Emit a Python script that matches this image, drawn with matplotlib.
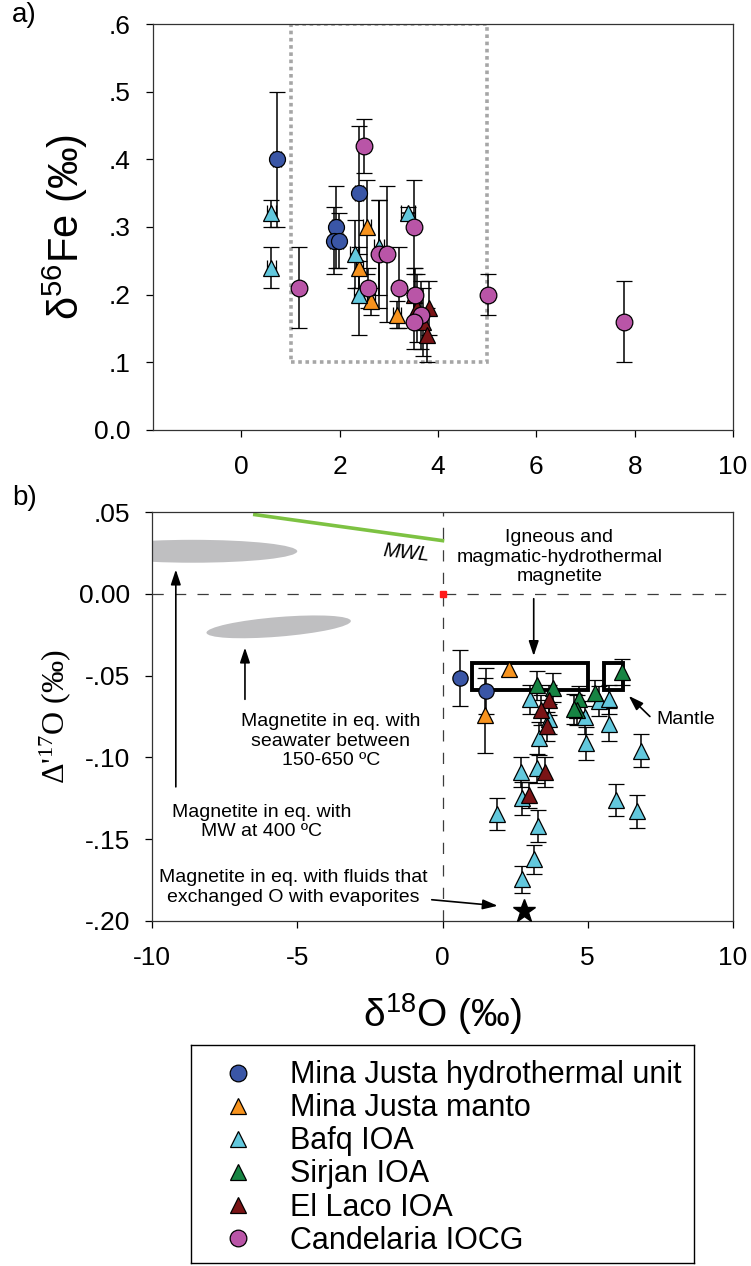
import numpy as np
import matplotlib
matplotlib.use("Agg")
import matplotlib.pyplot as plt
from matplotlib.patches import Ellipse, Rectangle
from matplotlib.lines import Line2D
from matplotlib.transforms import Affine2D

plt.rcParams["font.family"] = ["Liberation Sans", "DejaVu Sans"]
plt.rcParams["axes.unicode_minus"] = False

# -----------------------------
# DATA: panel a (d18O vs d56Fe)
# -----------------------------
mjh_a_x = [0.73, 1.92, 1.88, 1.98, 2.39]
mjh_a_y = [0.40, 0.30, 0.28, 0.28, 0.35]
mjh_a_yerr = [0.10, 0.06, 0.05, 0.04, 0.10]
mjh_a_xerr = [0.08, 0.08, 0.08, 0.08, 0.08]

mjm_a_x = [2.56, 2.40, 2.64, 3.17]
mjm_a_y = [0.30, 0.24, 0.19, 0.17]
mjm_a_yerr = [0.07, 0.03, 0.02, 0.02]
mjm_a_xerr = [0.08, 0.08, 0.08, 0.08]

bafq_a_x = [0.61, 0.61, 2.30, 2.39, 2.80, 3.39]
bafq_a_y = [0.32, 0.24, 0.26, 0.20, 0.27, 0.32]
bafq_a_yerr = [0.02, 0.03, 0.05, 0.06, 0.07, 0.01]
bafq_a_xerr = [0.10, 0.10, 0.10, 0.10, 0.10, 0.15]

laco_a_x = [3.50, 3.58, 3.81, 3.70, 3.77]
laco_a_y = [0.20, 0.18, 0.18, 0.16, 0.14]
laco_a_yerr = [0.04, 0.05, 0.04, 0.05, 0.04]

cand_a_x = [1.18, 2.49, 2.58, 2.80, 2.97, 3.20, 3.51, 3.54, 3.66, 3.51, 5.02, 7.79]
cand_a_y = [0.21, 0.42, 0.21, 0.26, 0.26, 0.21, 0.30, 0.20, 0.17, 0.16, 0.20, 0.16]
cand_a_yerr = [0.06, 0.04, 0.03, 0.08, 0.10, 0.06, 0.07, 0.04, 0.05, 0.04, 0.03, 0.06]

# -----------------------------
# DATA: panel b (d18O vs D'17O)
# -----------------------------
mjh_b_x = [0.61, 1.50]
mjh_b_y = [-0.0516, -0.0594]
mjh_b_yerr = [0.017, 0.014]

mjm_b_x = [2.30, 1.46]
mjm_b_y = [-0.0460, -0.0742]
mjm_b_yerr = [0.004, 0.023]

bafq_b_x = [3.02, 3.66, 3.31, 3.25, 2.70, 2.74, 1.87, 3.29, 3.16, 2.72,
            4.92, 4.94, 5.38, 5.74, 5.74, 6.84, 5.98, 6.71]
bafq_b_y = [-0.0645, -0.0766, -0.0884, -0.1067, -0.109, -0.125, -0.1346, -0.142, -0.1624, -0.1746,
            -0.0756, -0.0913, -0.0655, -0.0645, -0.0797, -0.096, -0.126, -0.133]
bafq_b_yerr = [0.009, 0.009, 0.010, 0.009, 0.009, 0.010, 0.010, 0.010, 0.009, 0.008,
               0.010, 0.010, 0.009, 0.009, 0.010, 0.010, 0.010, 0.010]

sirj_b_x = [3.25, 3.79, 4.69, 4.63, 4.52, 5.24, 6.19]
sirj_b_y = [-0.0559, -0.0573, -0.0645, -0.0710, -0.0705, -0.0604, -0.0476]
sirj_b_yerr = [0.009, 0.009, 0.008, 0.009, 0.009, 0.008, 0.008]

laco_b_x = [3.66, 3.40, 3.60, 3.54, 2.97]
laco_b_y = [-0.0649, -0.0710, -0.0811, -0.1090, -0.1228]
laco_b_yerr = [0.009, 0.009, 0.009, 0.009, 0.008]

evap_x = [2.8]
evap_y = [-0.194]

mwl_x = [-6.46, 0.0]
mwl_y = [0.0484, 0.0325]

# reference fields
box_a = (1.0, 0.1, 4.0, 0.5)                    # dotted box, panel a
igneous_box = (1.0, -0.0588, 4.0, 0.0167)
mantle_box = (5.55, -0.0588, 0.65, 0.0167)
mw_field = (-8.6, 0.026, 7.2, 0.014)           # cx, cy, width, height
sea_field = (-5.64, -0.0202, 4.97, 0.012, 0.00143)  # + slope

colors = {
    "mjh": "#3A56A6",
    "mjm": "#F7931E",
    "bafq": "#62C8DD",
    "sirj": "#178443",
    "laco": "#7A1416",
    "cand": "#B955A7",
}

fig = plt.figure(figsize=(7.51, 12.66), dpi=100)
ax_a = fig.add_axes([153 / 751, 1 - 430 / 1266, 580 / 751, 406 / 1266])
ax_b = fig.add_axes([152 / 751, 1 - 921 / 1266, 581 / 751, 409 / 1266])

eb_kw = dict(ecolor="black", elinewidth=1.1, capsize=5.5, capthick=1.1,
             linestyle="none", markeredgecolor="black", markeredgewidth=0.9)

# -----------------------------
# PANEL A
# -----------------------------
ax_a.add_patch(Rectangle(box_a[:2], box_a[2], box_a[3], fill=False,
                         edgecolor="#A6A6A6", linewidth=2.6, linestyle=(0, (1, 1)), zorder=1))

ax_a.errorbar(mjh_a_x, mjh_a_y, yerr=mjh_a_yerr, xerr=mjh_a_xerr, marker="o", ms=11.5,
              markerfacecolor=colors["mjh"], zorder=3, **eb_kw)
ax_a.errorbar(mjm_a_x, mjm_a_y, yerr=mjm_a_yerr, xerr=mjm_a_xerr, marker="^", ms=12,
              markerfacecolor=colors["mjm"], zorder=3, **eb_kw)
ax_a.errorbar(bafq_a_x, bafq_a_y, yerr=bafq_a_yerr, xerr=bafq_a_xerr, marker="^", ms=12,
              markerfacecolor=colors["bafq"], zorder=3, **eb_kw)
ax_a.errorbar(laco_a_x, laco_a_y, yerr=laco_a_yerr, marker="^", ms=12,
              markerfacecolor=colors["laco"], zorder=3, **eb_kw)
ax_a.errorbar(cand_a_x, cand_a_y, yerr=cand_a_yerr, marker="o", ms=12,
              markerfacecolor=colors["cand"], zorder=3, **eb_kw)

ax_a.set_xlim(-1.8, 10)
ax_a.set_ylim(0, 0.6)
ax_a.set_xticks([0, 2, 4, 6, 8, 10])
ax_a.set_yticks([0, 0.1, 0.2, 0.3, 0.4, 0.5, 0.6])
ax_a.set_yticklabels(["0.0", ".1", ".2", ".3", ".4", ".5", ".6"])
ax_a.set_ylabel("δ$\\mathregular{^{56}}$Fe (‰)", fontsize=30, labelpad=3)

# -----------------------------
# PANEL B
# -----------------------------
ax_b.axhline(0, color="#3C3C3C", lw=0.9, dashes=(9, 9), zorder=1)
ax_b.axvline(0, color="#3C3C3C", lw=0.9, dashes=(9, 9), zorder=1)

ax_b.add_patch(Ellipse(mw_field[:2], mw_field[2], mw_field[3],
                       facecolor="#BFBFC1", edgecolor="none", zorder=1))
sea = Ellipse((0, 0), sea_field[2], sea_field[3], facecolor="#BFBFC1", edgecolor="none", zorder=1)
sea.set_transform(Affine2D().skew(0, np.arctan(sea_field[4]))
                  .translate(sea_field[0], sea_field[1]) + ax_b.transData)
ax_b.add_patch(sea)

ax_b.plot(mwl_x, mwl_y, color="#7DC242", lw=2.6, zorder=2)
ax_b.plot([0], [0], marker="s", ms=5, color="#FF1A1A", linestyle="none", zorder=4)

for bx in (igneous_box, mantle_box):
    ax_b.add_patch(Rectangle(bx[:2], bx[2], bx[3], fill=False,
                             edgecolor="black", linewidth=2.8, zorder=2))

ax_b.errorbar(mjh_b_x, mjh_b_y, yerr=mjh_b_yerr, marker="o", ms=11,
              markerfacecolor=colors["mjh"], zorder=3, **eb_kw)
ax_b.errorbar(mjm_b_x, mjm_b_y, yerr=mjm_b_yerr, marker="^", ms=11,
              markerfacecolor=colors["mjm"], zorder=3, **eb_kw)
ax_b.errorbar(bafq_b_x, bafq_b_y, yerr=bafq_b_yerr, marker="^", ms=11,
              markerfacecolor=colors["bafq"], zorder=3, **eb_kw)
ax_b.errorbar(sirj_b_x, sirj_b_y, yerr=sirj_b_yerr, marker="^", ms=11,
              markerfacecolor=colors["sirj"], zorder=3, **eb_kw)
ax_b.errorbar(laco_b_x, laco_b_y, yerr=laco_b_yerr, marker="^", ms=11,
              markerfacecolor=colors["laco"], zorder=3, **eb_kw)
ax_b.plot(evap_x, evap_y, marker="*", ms=17, color="black", linestyle="none", zorder=4)

arrow_kw = dict(arrowstyle="-|>,head_length=0.9,head_width=0.3", color="black", lw=1.2,
                shrinkA=0, shrinkB=0)
txt_kw = dict(fontsize=14, ha="center", va="center", linespacing=1.2)

ax_b.annotate("", xy=(-9.18, 0.0148), xytext=(-9.18, -0.118), arrowprops=arrow_kw)
ax_b.annotate("", xy=(-6.8, -0.0329), xytext=(-6.8, -0.0645), arrowprops=arrow_kw)
ax_b.annotate("", xy=(1.9, -0.1907), xytext=(-0.37, -0.187), arrowprops=arrow_kw)
ax_b.annotate("", xy=(3.14, -0.038), xytext=(3.14, -0.003), arrowprops=arrow_kw)
ax_b.annotate("", xy=(6.41, -0.0624), xytext=(7.14, -0.075), arrowprops=arrow_kw)

ax_b.text(-6.23, -0.1395, "Magnetite in eq. with\nMW at 400 ºC", **txt_kw)
ax_b.text(-3.84, -0.090, "Magnetite in eq. with\nseawater between\n150-650 ºC", **txt_kw)
ax_b.text(-5.14, -0.1797, "Magnetite in eq. with fluids that\nexchanged O with evaporites", **txt_kw)
ax_b.text(4.02, 0.0224, "Igneous and\nmagmatic-hydrothermal\nmagnetite", **txt_kw)
ax_b.text(8.37, -0.0766, "Mantle", **txt_kw)
ax_b.text(-1.24, 0.0252, "MWL", fontsize=14.5, style="italic", ha="center", va="center", rotation=-6)

ax_b.set_xlim(-10, 10)
ax_b.set_ylim(-0.2, 0.05)
ax_b.set_xticks([-10, -5, 0, 5, 10])
ax_b.set_yticks([-0.2, -0.15, -0.1, -0.05, 0, 0.05])
ax_b.set_yticklabels(["-.20", "-.15", "-.10", "-.05", "0.00", ".05"])
ax_b.set_xlabel("δ$\\mathregular{^{18}}$O (‰)", fontsize=28, labelpad=15)
ax_b.set_ylabel("Δ'$\\mathregular{^{17}}$O (‰)", fontsize=23, family=["Liberation Serif", "DejaVu Serif"],
                labelpad=4)

for ax in (ax_a, ax_b):
    ax.tick_params(axis="both", direction="out", length=5, width=0.9, labelsize=19)
    ax.tick_params(axis="x", pad=13)
    ax.tick_params(axis="y", pad=11)
    for s in ax.spines.values():
        s.set_linewidth(0.9)
        s.set_color("#333333")

fig.text(12 / 751, 1 - 15 / 1266, "a)", fontsize=20, ha="left", va="center")
fig.text(12 / 751, 1 - 498 / 1266, "b)", fontsize=20, ha="left", va="center")

# -----------------------------
# LEGEND (separate boxed area)
# -----------------------------
ax_leg = fig.add_axes([191 / 751, 1 - 1263 / 1266, 503 / 751, 218 / 1266])
ax_leg.set_xticks([])
ax_leg.set_yticks([])
for s in ax_leg.spines.values():
    s.set_linewidth(1.0)

labels = ["Mina Justa hydrothermal unit", "Mina Justa manto", "Bafq IOA",
          "Sirjan IOA", "El Laco IOA", "Candelaria IOCG"]
keys = ["mjh", "mjm", "bafq", "sirj", "laco", "cand"]
shapes = ["o", "^", "^", "^", "^", "o"]
handles = [Line2D([], [], marker=m, ms=12, linestyle="none", markerfacecolor=colors[k],
                  markeredgecolor="black", markeredgewidth=0.9) for m, k in zip(shapes, keys)]
ax_leg.legend(handles, labels, loc="upper left", frameon=False, fontsize=22,
              handletextpad=0.9, handlelength=1.6, labelspacing=0.1,
              borderaxespad=0.0, borderpad=0.5, bbox_to_anchor=(0.014, 1.0))

fig.savefig("out.png", dpi=100)
